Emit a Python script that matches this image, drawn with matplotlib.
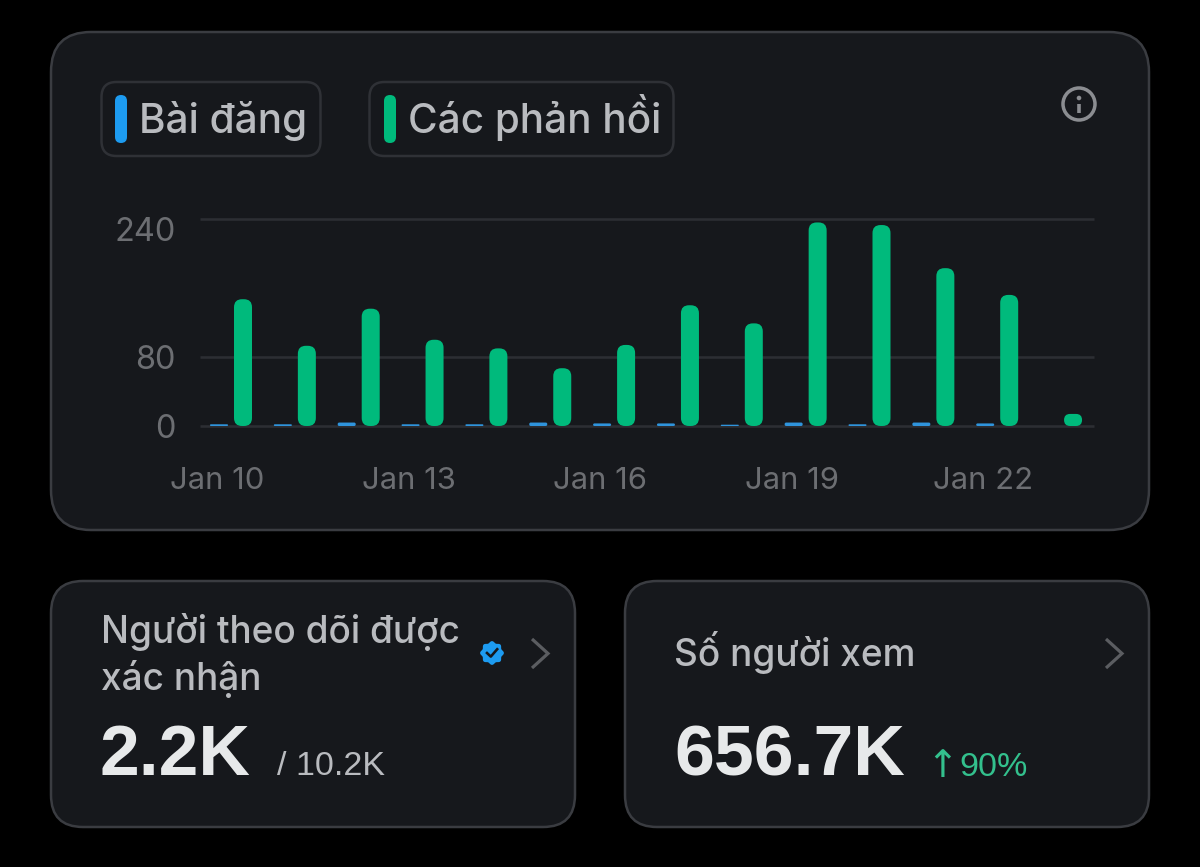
import matplotlib
matplotlib.use("Agg")
import matplotlib.pyplot as plt
import numpy as np
from matplotlib.patches import FancyBboxPatch, Circle, Polygon
from matplotlib.transforms import ScaledTranslation

days = list(range(14))
posts = [2, 2, 4, 2, 2, 4, 3, 3, 1.5, 4, 2, 4, 3, 0]
replies = [147, 93, 136, 100, 90, 67, 94, 140, 119, 236, 233, 183, 152, 14]
y_ticks = [0, 80, 240]
x_ticks = [0, 3, 6, 9, 12]
x_labels = ["Jan 10", "Jan 13", "Jan 16", "Jan 19", "Jan 22"]
legend_labels = ["Bài đăng", "Các phản hồi"]

BG = "#000000"; CARD = "#16181c"; EDGE = "#3a3c41"; CHIP = "#2f3136"
BLUE = "#1d9bf0"; GREEN = "#00ba7c"; TXT = "#b9bbbf"; MUTED = "#6c6e72"; GRID = "#2c2e33"
WHITE = "#e7e9ea"
F = ["Inter", "DejaVu Sans"]; H = ["Liberation Sans", "DejaVu Sans"]
W, Ht = 1200, 867

def pt(px):
    return px * 72 / 100

fig = plt.figure(figsize=(12, 8.67), dpi=100, facecolor=BG)
bg = fig.add_axes([0, 0, 1, 1], zorder=0)
bg.set_xlim(0, W); bg.set_ylim(Ht, 0); bg.axis("off")

def rbox(x0, y0, x1, y1, r, fc, ec=None, lw=0, z=1):
    bg.add_patch(FancyBboxPatch((x0 + r, y0 + r), x1 - x0 - 2 * r, y1 - y0 - 2 * r,
                                boxstyle=f"round,pad={r},rounding_size={r}",
                                fc=fc, ec=ec if ec else "none", lw=pt(lw), zorder=z))

rbox(51, 32, 1149, 530, 40, CARD, EDGE, 2.5)
rbox(51, 581, 575, 827, 32, CARD, EDGE, 2.5)
rbox(625, 581, 1149, 827, 32, CARD, EDGE, 2.5)

# legend chips
rbox(101.5, 82, 320.5, 156, 15, CARD, CHIP, 2.5, 2)
rbox(369.5, 82, 673.5, 156, 15, CARD, CHIP, 2.5, 2)
rbox(115, 95, 127, 143, 6, BLUE, z=3)
rbox(384, 95, 396, 143, 6, GREEN, z=3)
bg.text(139, 133, legend_labels[0], color=TXT, fontsize=pt(40.5), family=F, weight="medium", va="baseline", zorder=3)
bg.text(408, 133, legend_labels[1], color=TXT, fontsize=pt(40.5), family=F, weight="medium", va="baseline", zorder=3)

# info icon
bg.add_patch(Circle((1079, 104), 16, fc="none", ec="#8b8d91", lw=pt(3.5), zorder=3))
bg.add_patch(Circle((1079, 98), 2.3, fc="#8b8d91", ec="none", zorder=3))
bg.plot([1079, 1079], [103.5, 113], color="#8b8d91", lw=pt(3.6), solid_capstyle="butt", zorder=3)

# cards text
bg.text(101, 643, "Người theo dõi được", color=TXT, fontsize=pt(37), family=F, weight="medium", va="baseline", zorder=3)
bg.text(101, 690, "xác nhận", color=TXT, fontsize=pt(37), family=F, weight="medium", va="baseline", zorder=3)
bg.text(100, 775, "2.2K", color=WHITE, fontsize=pt(71.5), family=H, weight="bold", va="baseline", zorder=3)
bg.text(277, 775, "/ 10.2K", color=TXT, fontsize=pt(34), family=H, va="baseline", zorder=3)
bg.text(674, 666, "Số người xem", color=TXT, fontsize=pt(37), family=F, weight="medium", va="baseline", zorder=3)
bg.text(674, 775, "656.7K", color=WHITE, fontsize=pt(71.5), family=H, weight="bold", va="baseline", zorder=3)
bg.text(926, 777, "↑", color="#33c08d", fontsize=pt(38), family=["DejaVu Sans"], va="baseline", zorder=3)
bg.text(959, 776, "90%", color="#33c08d", fontsize=pt(34), family=H, va="baseline", zorder=3)

# chevrons
for x0 in (532, 1106):
    bg.plot([x0, x0 + 16, x0], [639, 653.5, 668], color="#5b5d61", lw=pt(3.2),
            solid_joinstyle="miter", solid_capstyle="butt", zorder=3)

# verified badge
cx, cy = 492, 653
t = np.linspace(0, 2 * np.pi, 97)
rr = 11 + 0.9 * np.cos(8 * t)
bg.add_patch(Polygon(np.c_[cx + rr * np.cos(t), cy + rr * np.sin(t)], closed=True, fc=BLUE, ec="none", zorder=3))
bg.plot([cx - 5, cx - 1.2, cx + 5.2], [cy, cy + 3.6, cy - 3.8], color="#16181c", lw=pt(2.6), zorder=4)

# chart axes: px 200..1094 horizontally, 219..426 vertically
STEP = 63.85
YS = 207 / 240
ax = fig.add_axes([200 / W, 1 - 426 / Ht, 894 / W, 207 / Ht], zorder=2)
ax.patch.set_alpha(0)
ax.set_xlim((200 - 217) / STEP, (1094 - 217) / STEP)
ax.set_ylim(0, 240)
for s in ax.spines.values():
    s.set_visible(False)
ax.set_yticks(y_ticks)
ax.set_xticks(x_ticks)
ax.set_xticklabels(x_labels, family=F, fontsize=pt(31), color=MUTED)
ax.set_yticklabels([str(v) for v in y_ticks], family=F, fontsize=pt(32.5), color=MUTED)
ax.tick_params(axis="both", length=0)
ax.tick_params(axis="y", pad=pt(24.5))
ax.tick_params(axis="x", pad=pt(41))
ax.yaxis.grid(True, color=GRID, lw=pt(2.6), zorder=0)
ax.set_axisbelow(True)
for gl in ax.get_ygridlines():
    gl.set_clip_on(False)
    gl.set_solid_capstyle("butt")
for tick, val in zip(ax.yaxis.get_major_ticks(), y_ticks):
    tick.label1.set_va("center")
    shift = 13.5 if val == 240 else 3.5
    off = ScaledTranslation(0, -shift / 100, fig.dpi_scale_trans)
    tick.label1.set_transform(tick.label1.get_transform() + off)

aspect = STEP / YS

def rbar(x, w, h, r_px, color):
    if h <= 0:
        return
    r = min(r_px / STEP, h * YS / 2 / STEP)
    ax.add_patch(FancyBboxPatch((x - w / 2 + r, r * aspect), w - 2 * r, h - 2 * r * aspect,
                                boxstyle=f"round,pad={r},rounding_size={r}",
                                mutation_aspect=aspect, fc=color, ec="none",
                                clip_on=False, zorder=3))

bw = 18 / STEP
for d, p, q in zip(days, posts, replies):
    rbar(d + 2 / STEP, bw, p, 1.5, "#2f94dc")
    rbar(d + 26 / STEP, bw, q, 8, GREEN)

fig.savefig("out.png", dpi=100, facecolor=BG)
